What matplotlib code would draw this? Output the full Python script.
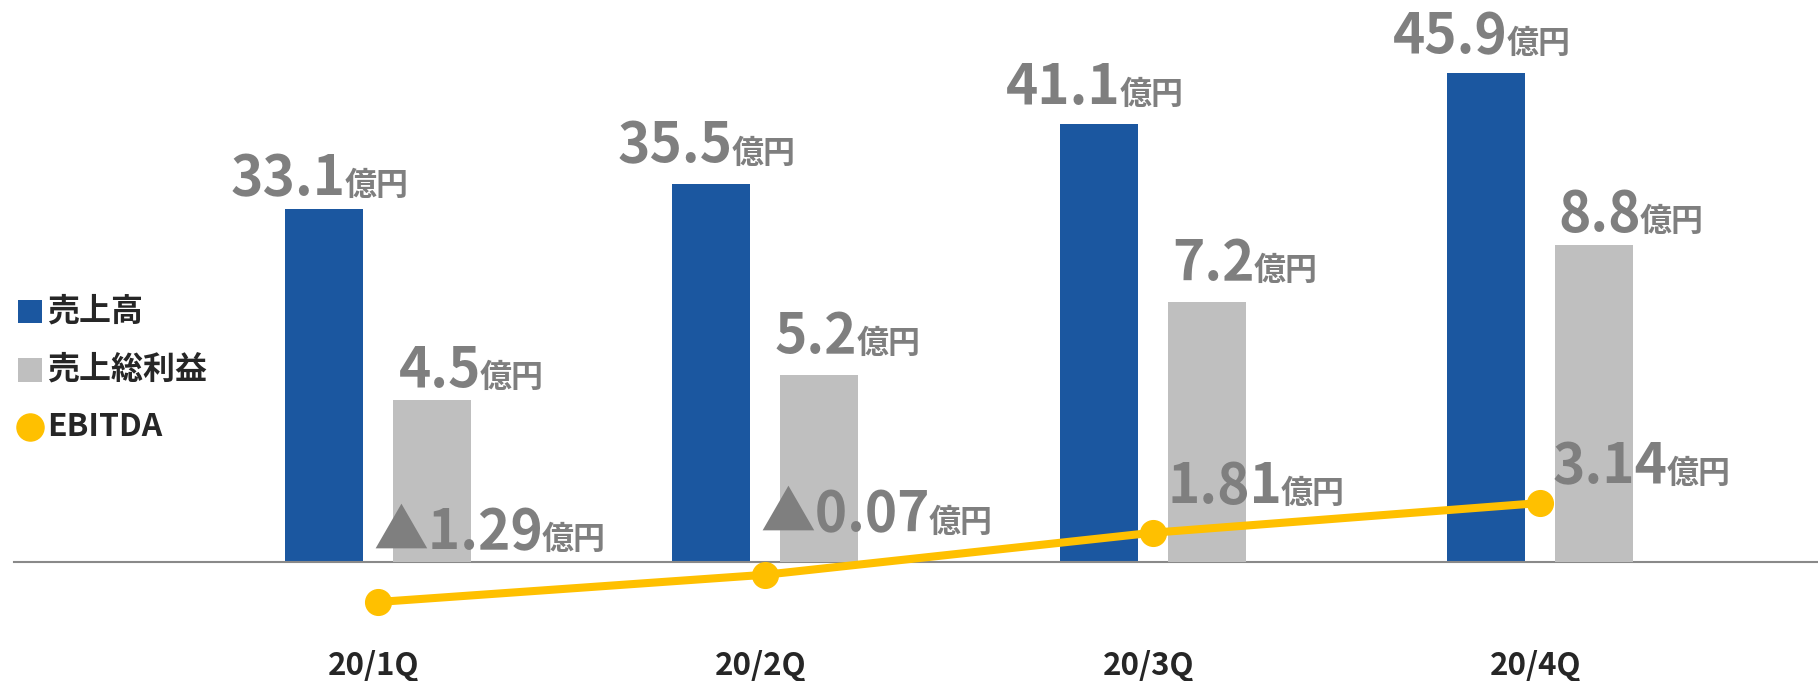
import matplotlib
matplotlib.use("Agg")
import matplotlib.pyplot as plt
from matplotlib.patches import Rectangle
from matplotlib.lines import Line2D
from matplotlib.transforms import IdentityTransform

# ---------------- data ----------------
categories = ["20/1Q", "20/2Q", "20/3Q", "20/4Q"]
sales = [33.1, 35.5, 41.1, 45.9]          # 売上高
gross_profit = [4.5, 5.2, 7.2, 8.8]       # 売上総利益
ebitda = [-1.29, -0.07, 1.81, 3.14]       # EBITDA
legend_labels = ["売上高", "売上総利益", "EBITDA"]
unit = "億円"

# ---------------- style ----------------
BLUE = "#1B57A0"
GRAY = "#BFBFBF"
YELLOW = "#FFC000"
LABEL = "#7F7F7F"
DARK = "#262626"
AXLINE = "#898989"
plt.rcParams["font.family"] = ["Noto Sans CJK JP", "DejaVu Sans"]

W, H = 1818, 681
fig = plt.figure(figsize=(W / 100, H / 100), dpi=100)
fig.patch.set_facecolor("white")

# layout (pixels)
step = 387.5
x0 = 377.5
base_top = 562.0
xl = (-x0 / step, (W - x0) / step)

ax = fig.add_axes([0, 0, 1, 1])
ax.set_xlim(*xl)
ax.set_ylim(-(H - base_top) / 10.655, base_top / 10.655)
ax2 = ax.twinx()
ax2.set_ylim(-(H - base_top) / 36.05, base_top / 36.05)
ax3 = ax.twinx()
e0 = 573.2
ax3.set_ylim(-(H - e0) / 22.35, e0 / 22.35)
for a in (ax, ax2, ax3):
    a.axis("off")
    a.patch.set_alpha(0)

xs = list(range(len(categories)))
off = 54 / step
bw = 78 / step
ax.bar([x - off for x in xs], sales, width=bw, color=BLUE, zorder=2)
ax2.bar([x + off for x in xs], gross_profit, width=bw, color=GRAY, zorder=2)
ax.axhline(0, xmin=14 / W, xmax=1, color=AXLINE, lw=1.5, zorder=3)
ax3.plot(xs, ebitda, color=YELLOW, lw=5.8, marker="o", markersize=18.5,
         solid_capstyle="round", zorder=4)

renderer = fig.canvas.get_renderer()
BIG = 39.5
SMALL = 23


def combo(px_anchor, py_baseline, num, align, layer):
    """Number + 億円, baseline aligned. align: 'center' or 'left'."""
    t1 = fig.text(0, 0, num, fontsize=BIG, fontweight="bold", color=LABEL,
                  transform=IdentityTransform(), ha="left", va="baseline", zorder=layer)
    t2 = fig.text(0, 0, unit, fontsize=SMALL, fontweight="bold", color=LABEL,
                  transform=IdentityTransform(), ha="left", va="baseline", zorder=layer)
    w1 = t1.get_window_extent(renderer).width
    w2 = t2.get_window_extent(renderer).width
    gap = -1
    total = w1 + gap + w2
    left = px_anchor - total / 2 if align == "center" else px_anchor
    t1.set_position((left, py_baseline))
    t2.set_position((left + w1 + gap, py_baseline))


# blue labels
blue_dy = [14, 21, 20, 20]
for i, v in enumerate(sales):
    px, py = ax.transData.transform((i - off, v))
    combo(px - 4, py + blue_dy[i], f"{v:.1f}", "center", 5)

# gray labels
gray_dx = [6, -5, 5, 3]
gray_dy = [13, 22, 22, 14]
for i, v in enumerate(gross_profit):
    px, py = ax2.transData.transform((i + off - bw / 2, v))
    combo(px + gray_dx[i], py + gray_dy[i], f"{v:.1f}", "left", 5)

# EBITDA labels
e_dx = [-4.5, -5, 14.5, 13]
e_dy = [53, 43, 30, 20]
for i, v in enumerate(ebitda):
    px, py = ax3.transData.transform((i, v))
    txt = f"▲{abs(v):.2f}" if v < 0 else f"{v:.2f}"
    combo(px + e_dx[i], py + e_dy[i], txt, "left", 6)

# category labels
for i, c in enumerate(categories):
    px, _ = ax.transData.transform((i, 0))
    fig.text(px - 4, H - 675, c, fontsize=22.5, fontweight="bold", color=DARK,
             transform=IdentityTransform(), ha="center", va="baseline")

# legend (manual)
fig.add_artist(Rectangle((18, H - 323), 24, 23, transform=IdentityTransform(),
                         facecolor=BLUE, edgecolor="none"))
fig.add_artist(Rectangle((18, H - 382), 24, 24, transform=IdentityTransform(),
                         facecolor=GRAY, edgecolor="none"))
fig.add_artist(Line2D([30], [H - 427], marker="o", markersize=19.5, color=YELLOW,
                      linestyle="none", transform=IdentityTransform()))
for lab, yc in zip(legend_labels, [312, 370, 427]):
    fig.text(47, H - yc, lab, fontsize=23, fontweight="bold", color=DARK,
             transform=IdentityTransform(), ha="left", va="center")

fig.savefig("out.png", dpi=100, facecolor="white")
